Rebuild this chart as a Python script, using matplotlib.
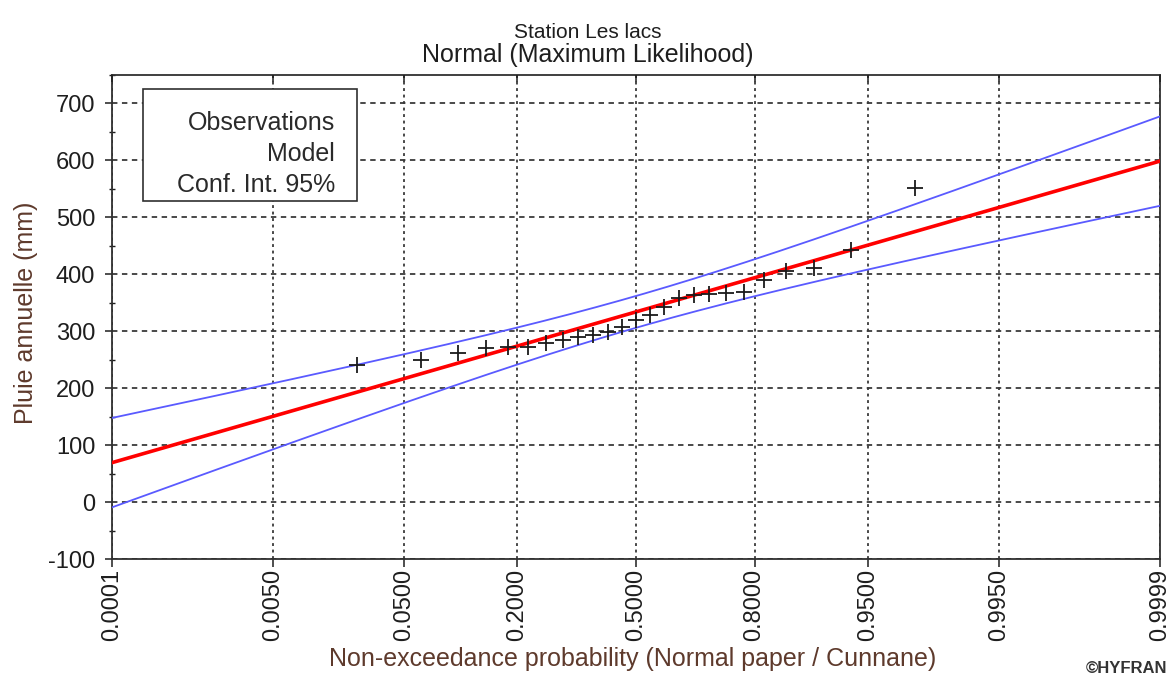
import numpy as np
import matplotlib
matplotlib.use("Agg")
import matplotlib.pyplot as plt
from matplotlib.patches import Rectangle
from matplotlib.ticker import FixedLocator, FixedFormatter, NullLocator, MultipleLocator
from statistics import NormalDist

plt.rcParams['font.family'] = ['Liberation Sans', 'DejaVu Sans']
plt.rcParams['axes.unicode_minus'] = False

# ---------------- data ----------------
title_line1 = "Station Les lacs"
title_line2 = "Normal (Maximum Likelihood)"
x_label = "Non-exceedance probability (Normal paper / Cunnane)"
y_label = "Pluie annuelle (mm)"

# annual rainfall observations (mm), sorted
observations = [240, 250, 262, 271, 272, 273, 280, 285, 289, 293, 298, 307, 319,
                328, 342, 358, 363, 366, 367, 369, 390, 405, 411, 442, 551]

# fitted normal model (maximum likelihood)
model_mu = 334.0
model_sigma = 71.2
conf_level = 0.95

x_ticks = [0.0001, 0.0050, 0.0500, 0.2000, 0.5000, 0.8000, 0.9500, 0.9950, 0.9999]
x_tick_labels = ["0.0001", "0.0050", "0.0500", "0.2000", "0.5000",
                 "0.8000", "0.9500", "0.9950", "0.9999"]
legend_labels = ["Observations", "Model", "Conf. Int. 95%"]

# ---------------- normal probability scale ----------------
ND = NormalDist()


def _ppf_scalar(p):
    if np.isnan(p):
        return np.nan
    p = min(max(p, 1e-12), 1 - 1e-12)
    return ND.inv_cdf(p)


_ppf = np.vectorize(_ppf_scalar, otypes=[float])
_cdf = np.vectorize(lambda z: np.nan if np.isnan(z) else ND.cdf(z), otypes=[float])


def fwd(p):
    return _ppf(np.asarray(p, dtype=float))


def inv(z):
    return _cdf(np.asarray(z, dtype=float))


# Cunnane plotting positions
obs = np.sort(np.array(observations, dtype=float))
n = len(obs)
ranks = np.arange(1, n + 1)
p_obs = (ranks - 0.4) / (n + 0.2)

# model and confidence band over the plotted range
z_grid = np.linspace(ND.inv_cdf(x_ticks[0]), ND.inv_cdf(x_ticks[-1]), 300)
p_grid = inv(z_grid)
model = model_mu + model_sigma * z_grid
u = ND.inv_cdf(0.5 + conf_level / 2)
half = u * model_sigma / np.sqrt(n) * np.sqrt(1 + z_grid ** 2 / 2)
upper = model + half
lower = model - half

# ---------------- figure ----------------
W, H = 1169, 676
fig = plt.figure(figsize=(W / 100, H / 100), dpi=100)
L, R, T, B = 112, 1160, 75, 559
ax = fig.add_axes([L / W, (H - B) / H, (R - L) / W, (B - T) / H])

ax.set_xscale('function', functions=(fwd, inv))
ax.set_xlim(x_ticks[0], x_ticks[-1])
ax.set_ylim(-100, 750)

ax.xaxis.set_major_locator(FixedLocator(x_ticks))
ax.xaxis.set_major_formatter(FixedFormatter(x_tick_labels))
ax.xaxis.set_minor_locator(NullLocator())
ax.yaxis.set_major_locator(MultipleLocator(100))
ax.yaxis.set_minor_locator(MultipleLocator(50))

tick_color = '#1e1e1e'
ax.tick_params(axis='x', which='major', direction='out', length=6, width=1.1,
               pad=1, labelsize=17, labelrotation=90, colors=tick_color)
ax.tick_params(axis='y', which='major', direction='out', length=5, width=1.1,
               pad=7, labelsize=17, colors=tick_color)
ax.tick_params(axis='y', which='minor', direction='inout', length=4, width=1.0,
               colors=tick_color)

for s in ax.spines.values():
    s.set_color('#303030')
    s.set_linewidth(1.3)

ax.set_axisbelow(True)
ax.grid(axis='y', which='major', linestyle=(0, (3, 2.5)), color='#3a3a3a', linewidth=1.3)
ax.grid(axis='x', which='major', linestyle=(0, (1.6, 2.0)), color='#3a3a3a', linewidth=1.3)

# top inward ticks
ax2 = ax.twiny()
ax2.set_xscale('function', functions=(fwd, inv))
ax2.set_xlim(x_ticks[0], x_ticks[-1])
ax2.xaxis.set_major_locator(FixedLocator(x_ticks))
ax2.xaxis.set_minor_locator(NullLocator())
ax2.tick_params(axis='x', which='major', direction='in', length=5, width=1.1,
                labeltop=False, colors=tick_color)
for s in ax2.spines.values():
    s.set_visible(False)

# data
ax.plot(p_grid, upper, color='#5a5aff', linewidth=1.3, zorder=3)
ax.plot(p_grid, lower, color='#5a5aff', linewidth=1.3, zorder=3)
ax.plot(p_grid, model, color='#ff0000', linewidth=2.6, zorder=3)
ax.plot(p_obs, obs, linestyle='none', marker='+', markersize=11, markeredgewidth=1.3,
        color='#1a1a1a', zorder=4)

# legend box (text only, right aligned)
AW, AH = R - L, B - T
bx0, bx1, by0, by1 = 143, 357, 89, 201
ax.add_patch(Rectangle(((bx0 - L) / AW, (B - by1) / AH), (bx1 - bx0) / AW, (by1 - by0) / AH,
                       transform=ax.transAxes, facecolor='white', edgecolor='#303030',
                       linewidth=1.2, zorder=6))
for lab, base in zip(legend_labels, [130, 161, 192]):
    ax.text((335 - L) / AW, (B - base) / AH, lab, transform=ax.transAxes, ha='right',
            va='baseline', fontsize=18, color='#2a2a2a', zorder=7)

# titles
tx = (588 - L) / AW
ax.text(tx, (B - 38) / AH, title_line1, transform=ax.transAxes, ha='center', va='baseline',
        fontsize=15, color='#1e1e1e')
ax.text(tx, (B - 62) / AH, title_line2, transform=ax.transAxes, ha='center', va='baseline',
        fontsize=18, color='#1e1e1e')

# axis labels
label_color = '#5e3a2c'
ax.set_xlabel(x_label, fontsize=18, color=label_color)
ax.xaxis.set_label_coords((633 - L) / AW, (B - 647) / AH)
ax.set_ylabel(y_label, fontsize=18, color=label_color)
ax.yaxis.set_label_coords((38 - L) / AW, (B - 313) / AH)

fig.text(1167 / W, (H - 673) / H, "\u00a9HYFRAN", ha='right', va='baseline',
         fontsize=12, fontweight='bold', color='#333333')

fig.savefig("out.png", dpi=100)
